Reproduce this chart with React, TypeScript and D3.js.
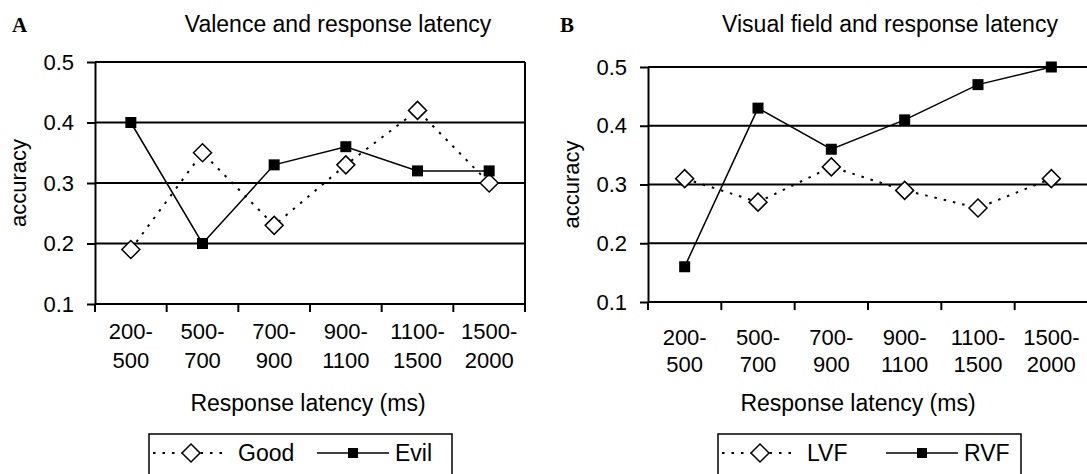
import React, { useEffect, useRef } from "react";
import * as d3 from "d3";

const categories = ["200-500", "500-700", "700-900", "900-1100", "1100-1500", "1500-2000"];
const yTicks = [0.1, 0.2, 0.3, 0.4, 0.5];
const goodValues = [0.19, 0.35, 0.23, 0.33, 0.42, 0.3];
const evilValues = [0.4, 0.2, 0.33, 0.36, 0.32, 0.32];
const lvfValues = [0.31, 0.27, 0.33, 0.29, 0.26, 0.31];
const rvfValues = [0.16, 0.43, 0.36, 0.41, 0.47, 0.5];

const FONT = "'Liberation Sans', Arial, sans-serif";

const panels = [
  {
    letter: "A", letterX: 12, title: "Valence and response latency", titleX: 338,
    left: 95, right: 525, top: 62, bottom: 304, rightBorder: true,
    labelY1: 339, labelY2: 368, axisTitleX: 308, legendX: 149,
    names: ["Good", "Evil"], dotted: goodValues, solid: evilValues,
  },
  {
    letter: "B", letterX: 560, title: "Visual field and response latency", titleX: 890,
    left: 648, right: 1088, top: 67, bottom: 302, rightBorder: false,
    labelY1: 345, labelY2: 372, axisTitleX: 858, legendX: 718,
    names: ["LVF", "RVF"], dotted: lvfValues, solid: rvfValues,
  },
];

function drawPanel(g, p) {
  const x = d3.scaleBand().domain(categories).range([p.left, p.right]);
  const y = d3.scaleLinear().domain([0.1, 0.5]).range([p.bottom, p.top]);
  const cx = (c) => x(c) + x.bandwidth() / 2;

  g.append("text").attr("x", p.letterX).attr("y", 32).attr("font-family", "'Liberation Serif', serif")
    .attr("font-weight", "bold").attr("font-size", 21).text(p.letter);
  g.append("text").attr("x", p.titleX).attr("y", 32).attr("text-anchor", "middle")
    .attr("font-family", FONT).attr("font-size", 23).text(p.title);

  // gridlines
  g.selectAll(".grid").data(yTicks.slice(1)).join("line")
    .attr("x1", p.left).attr("x2", p.right).attr("y1", (d) => y(d)).attr("y2", (d) => y(d))
    .attr("stroke", "#000").attr("stroke-width", 2);
  if (p.rightBorder) {
    g.append("line").attr("x1", p.right).attr("x2", p.right).attr("y1", p.top).attr("y2", p.bottom)
      .attr("stroke", "#000").attr("stroke-width", 2);
  }

  // y axis
  const ya = g.append("g").attr("transform", `translate(${p.left},0)`)
    .call(d3.axisLeft(y).tickValues(yTicks).tickSize(8).tickSizeOuter(0).tickPadding(13).tickFormat(d3.format(".1f")));
  ya.selectAll("path, line").attr("stroke", "#000").attr("stroke-width", 2);
  ya.selectAll("text").attr("font-family", FONT).attr("font-size", 22).attr("fill", "#000");

  g.append("text").attr("transform", `translate(${p.left - 77},${(p.top + p.bottom) / 2}) rotate(-90)`)
    .attr("text-anchor", "middle").attr("dy", "0.35em").attr("font-family", FONT).attr("font-size", 22).text("accuracy");

  // x axis
  g.append("line").attr("x1", p.left).attr("x2", p.right).attr("y1", p.bottom).attr("y2", p.bottom)
    .attr("stroke", "#000").attr("stroke-width", 2);
  g.selectAll(".xtick").data(d3.range(categories.length + 1)).join("line")
    .attr("x1", (i) => p.left + i * x.step()).attr("x2", (i) => p.left + i * x.step())
    .attr("y1", p.bottom).attr("y2", p.bottom + 8).attr("stroke", "#000").attr("stroke-width", 2);
  const lab = g.selectAll(".xlab").data(categories).join("text")
    .attr("text-anchor", "middle").attr("font-family", FONT).attr("font-size", 22);
  lab.append("tspan").attr("x", cx).attr("y", p.labelY1).text((c) => c.split("-")[0] + "-");
  lab.append("tspan").attr("x", cx).attr("y", p.labelY2).text((c) => c.split("-")[1]);

  g.append("text").attr("x", p.axisTitleX).attr("y", 411).attr("text-anchor", "middle")
    .attr("font-family", FONT).attr("font-size", 23).text("Response latency (ms)");

  // series
  const line = d3.line().x((d, i) => cx(categories[i])).y((d) => y(d));
  g.append("path").attr("d", line(p.dotted)).attr("fill", "none").attr("stroke", "#000")
    .attr("stroke-width", 2).attr("stroke-dasharray", "2.5,7");
  g.append("path").attr("d", line(p.solid)).attr("fill", "none").attr("stroke", "#000").attr("stroke-width", 1.5);

  const diamond = (sx, sy) => `M${sx},${sy - 9}L${sx + 9},${sy}L${sx},${sy + 9}L${sx - 9},${sy}Z`;
  g.selectAll(".dia").data(p.dotted).join("path")
    .attr("d", (d, i) => diamond(cx(categories[i]), y(d)))
    .attr("fill", "#fff").attr("stroke", "#000").attr("stroke-width", 1.5);
  g.selectAll(".sq").data(p.solid).join("rect")
    .attr("x", (d, i) => cx(categories[i]) - 5.5).attr("y", (d) => y(d) - 5.5)
    .attr("width", 11).attr("height", 11).attr("fill", "#000");

  // legend
  const lg = g.append("g").attr("transform", `translate(${p.legendX},434)`);
  lg.append("rect").attr("x", 0).attr("y", 0).attr("width", 303).attr("height", 60)
    .attr("fill", "#fff").attr("stroke", "#000").attr("stroke-width", 1.5);
  lg.append("line").attr("x1", 4).attr("x2", 76).attr("y1", 19).attr("y2", 19)
    .attr("stroke", "#000").attr("stroke-width", 2).attr("stroke-dasharray", "2.5,7");
  lg.append("path").attr("d", diamond(42, 19)).attr("fill", "#fff").attr("stroke", "#000").attr("stroke-width", 1.5);
  lg.append("text").attr("x", 89).attr("y", 27).attr("font-family", FONT).attr("font-size", 23).text(p.names[0]);
  lg.append("line").attr("x1", 168).attr("x2", 240).attr("y1", 19).attr("y2", 19)
    .attr("stroke", "#000").attr("stroke-width", 1.5);
  lg.append("rect").attr("x", 199).attr("y", 14).attr("width", 10).attr("height", 10).attr("fill", "#000");
  lg.append("text").attr("x", 246).attr("y", 27).attr("font-family", FONT).attr("font-size", 23).text(p.names[1]);
}

export default function App() {
  const ref = useRef(null);

  useEffect(() => {
    const svg = d3.select(ref.current);
    svg.selectAll("*").remove();
    svg.append("rect").attr("width", 1087).attr("height", 474).attr("fill", "#fff");
    panels.forEach((p) => drawPanel(svg.append("g"), p));
  }, []);

  return (
    <svg ref={ref} width={1087} height={474}
      style={{ position: "absolute", left: 0, top: 0, display: "block" }} />
  );
}
